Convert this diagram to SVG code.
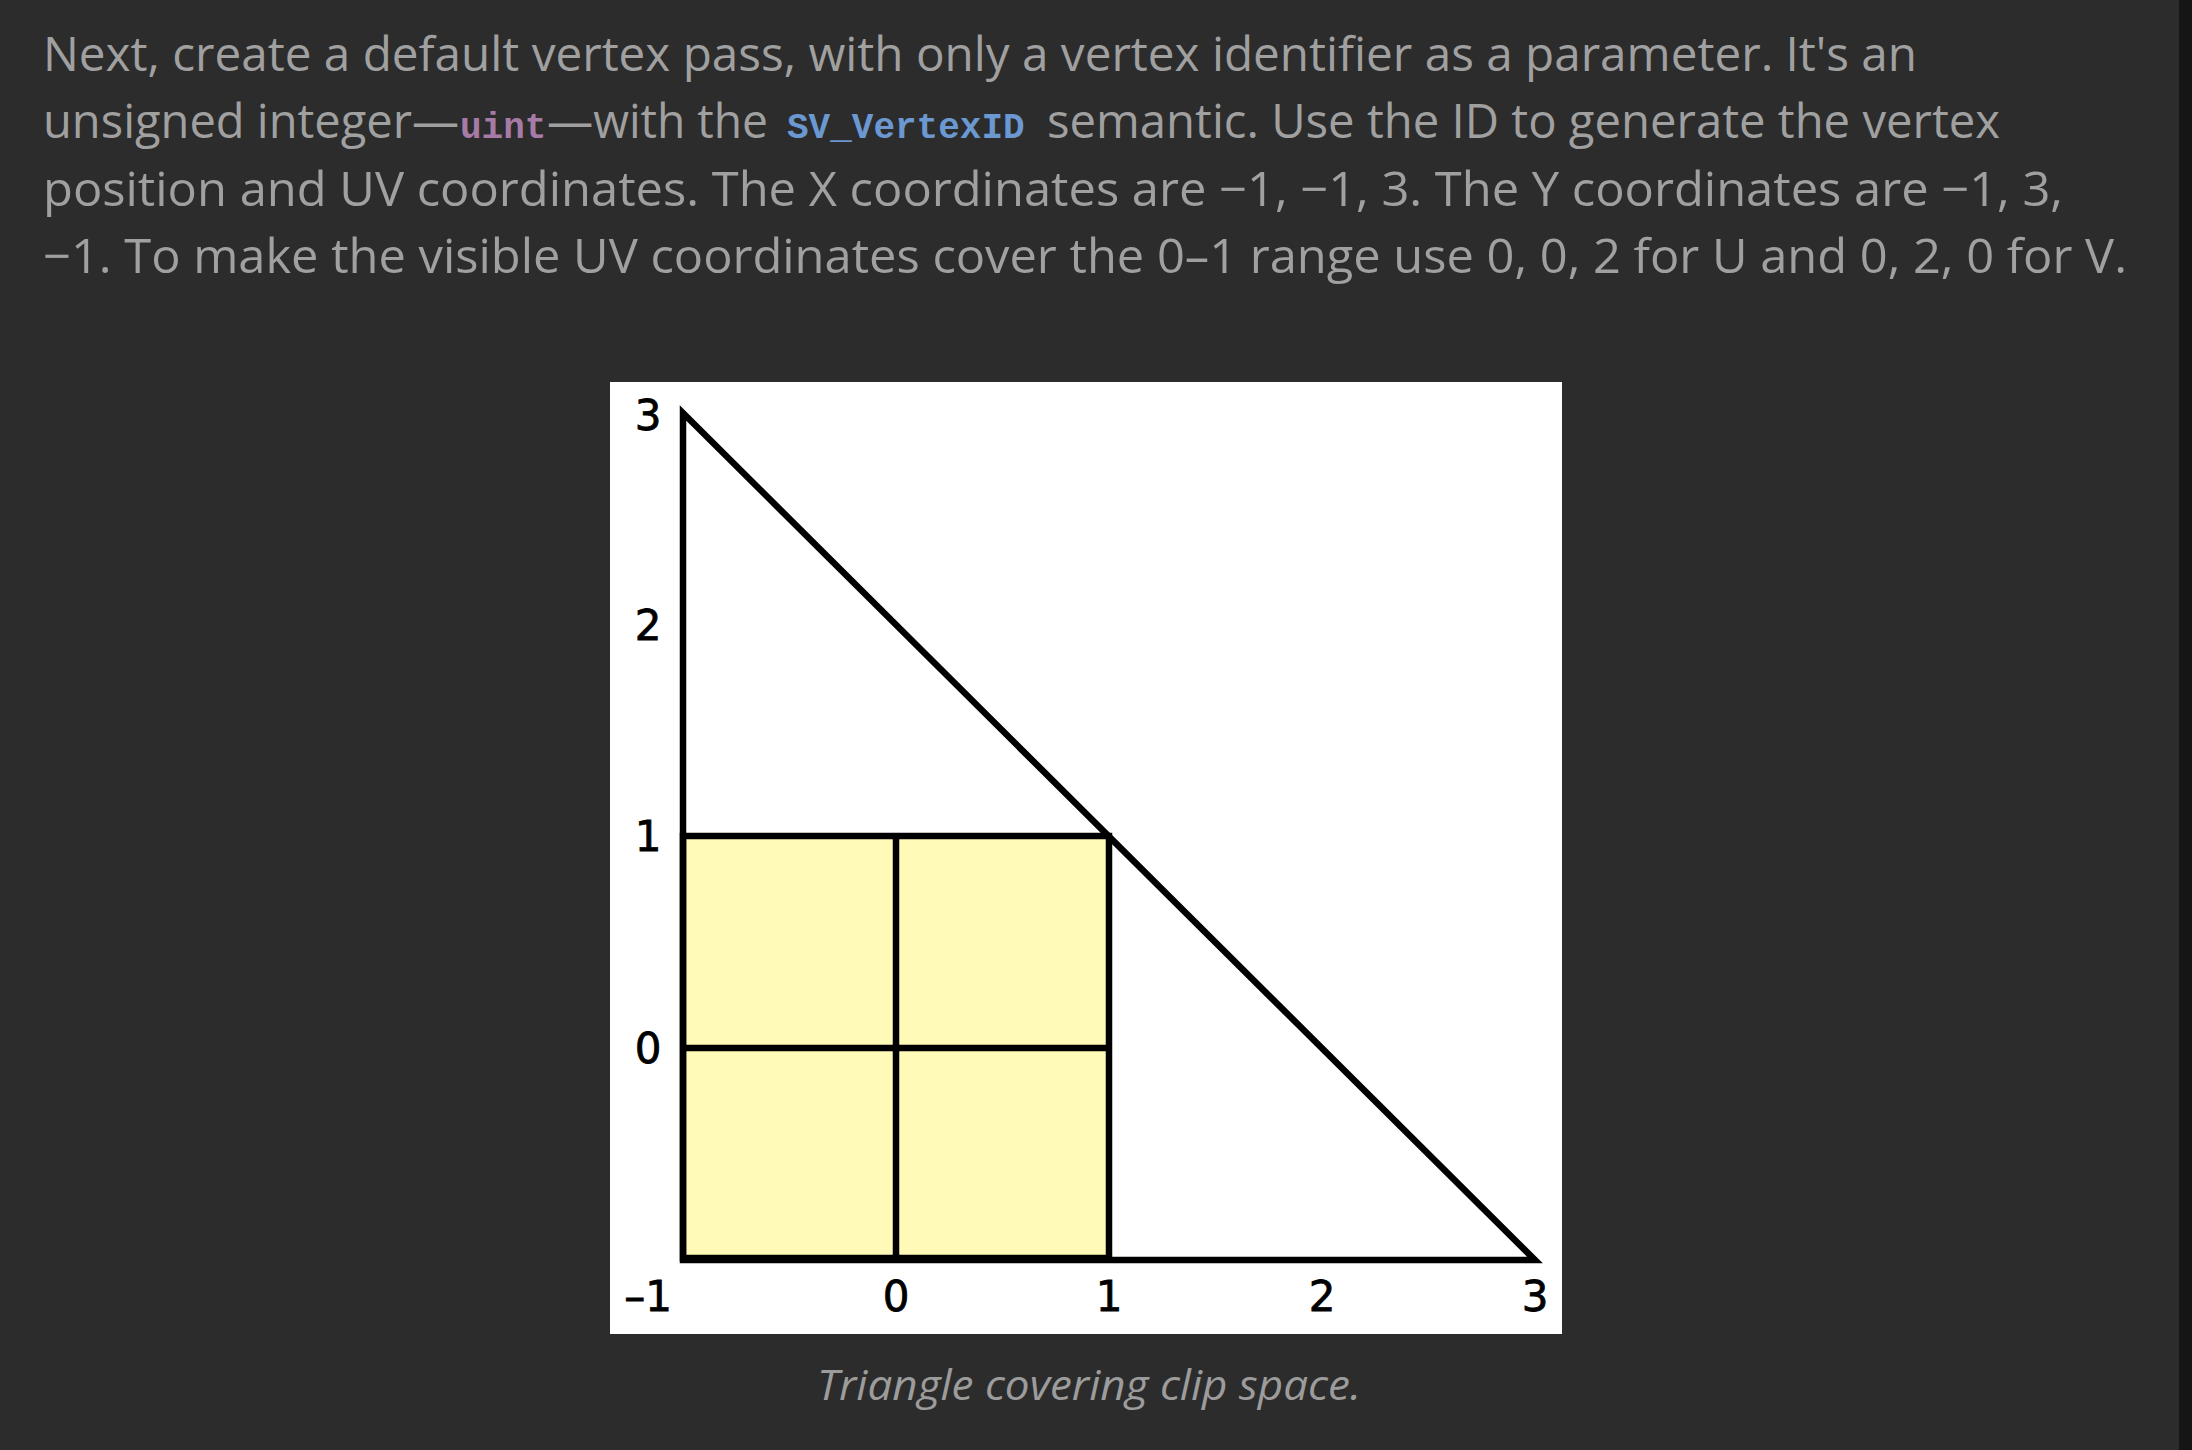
<svg xmlns="http://www.w3.org/2000/svg" width="2192" height="1450" viewBox="0 0 2192 1450">
<style>
.p{font-family:"Open Sans","Noto Sans","DejaVu Sans",sans-serif;font-size:48px;fill:#a0a0a0}
.code{font-family:"Liberation Mono","Courier New",monospace;font-size:36px;font-weight:bold}
.lbl{font-family:"DejaVu Sans",sans-serif;font-size:42px;fill:#000;stroke:#000;stroke-width:0.8;text-anchor:middle}
.cap{font-family:"Open Sans","Noto Sans",sans-serif;font-size:42px;font-style:italic;fill:#9c9c9c;text-anchor:middle}
.ln{stroke:#000;stroke-width:6.5;fill:none}
</style>
<rect x="0" y="0" width="2192" height="1450" fill="#2c2c2c"/>
<rect x="2179" y="0" width="13" height="1450" fill="#151515"/>
<g id="paragraph">
<text class="p" x="43" y="71" textLength="1874" lengthAdjust="spacingAndGlyphs">Next, create a default vertex pass, with only a vertex identifier as a parameter. It's an</text>
<text class="p" x="43" y="138" textLength="416" lengthAdjust="spacingAndGlyphs">unsigned integer—</text>
<text class="code" x="460" y="138" fill="#a77ba8">uint</text>
<text class="p" x="547" y="138" textLength="221" lengthAdjust="spacingAndGlyphs">—with the</text>
<text class="code" x="787" y="138" fill="#6b98d0">SV_VertexID</text>
<text class="p" x="1047" y="138" textLength="953" lengthAdjust="spacingAndGlyphs">semantic. Use the ID to generate the vertex</text>
<text class="p" x="43" y="206" textLength="2020" lengthAdjust="spacingAndGlyphs">position and UV coordinates. The X coordinates are −1, −1, 3. The Y coordinates are −1, 3,</text>
<text class="p" x="43" y="273" textLength="2084" lengthAdjust="spacingAndGlyphs">−1. To make the visible UV coordinates cover the 0–1 range use 0, 0, 2 for U and 0, 2, 0 for V.</text>
</g>
<g id="figure">
<rect id="panel" x="610" y="382" width="952" height="952" fill="#ffffff"/>
<g id="uv-square">
<rect x="683" y="836" width="426" height="422" fill="#fffab8" stroke="#000" stroke-width="6.5"/>
</g>
<g id="connectors">
<line class="ln" x1="896" y1="836" x2="896" y2="1258" stroke-width="5.5"/>
<line class="ln" x1="683" y1="1048" x2="1109" y2="1048" stroke-width="5.5"/>
<polygon id="triangle" class="ln" points="683,413 683,1260 1535,1260" stroke-linejoin="miter" stroke-miterlimit="10"/>
</g>
<g id="y-labels">
<text class="lbl" x="648" y="430">3</text>
<text class="lbl" x="648" y="640">2</text>
<text class="lbl" x="648" y="851">1</text>
<text class="lbl" x="648" y="1063">0</text>
</g>
<g id="x-labels">
<text class="lbl" x="648" y="1311">–1</text>
<text class="lbl" x="896" y="1311">0</text>
<text class="lbl" x="1109" y="1311">1</text>
<text class="lbl" x="1322" y="1311">2</text>
<text class="lbl" x="1535" y="1311">3</text>
</g>
</g>
<g id="caption">
<text class="cap" x="1089" y="1400" textLength="544" lengthAdjust="spacingAndGlyphs">Triangle covering clip space.</text>
</g>
</svg>
